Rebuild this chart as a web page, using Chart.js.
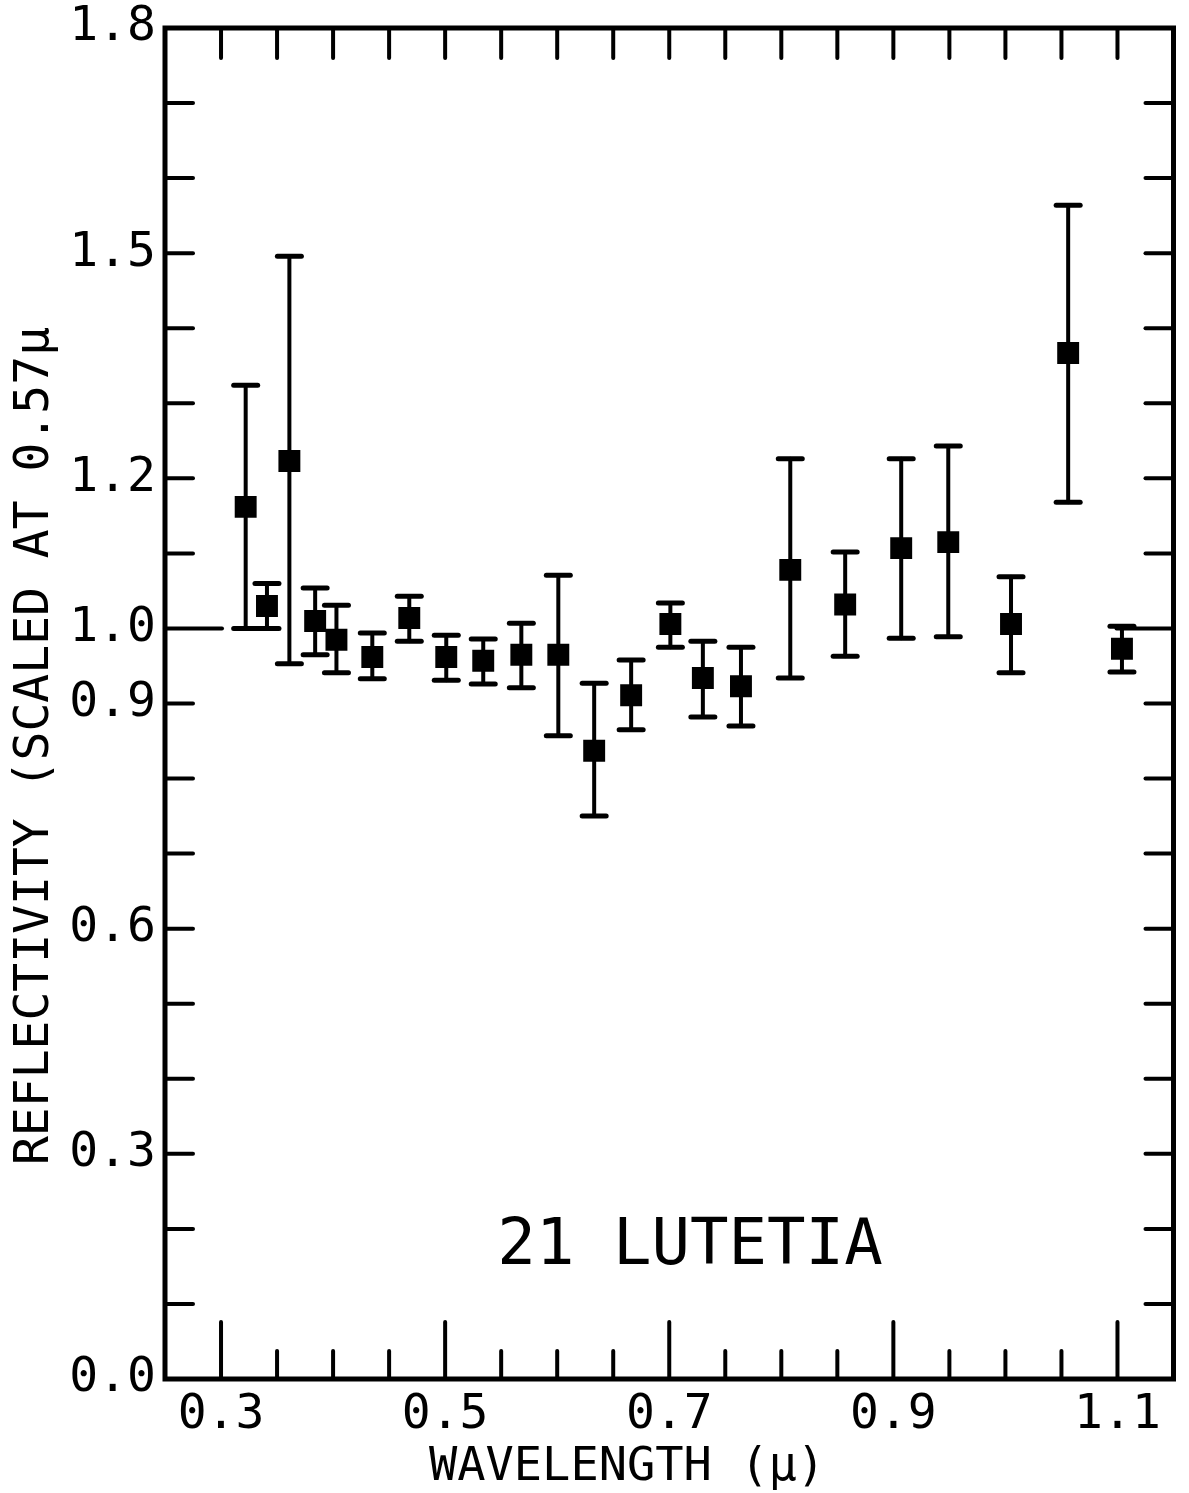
<!DOCTYPE html>
<html>
<head>
<meta charset="utf-8">
<script src="https://cdn.jsdelivr.net/npm/chart.js@4/dist/chart.umd.min.js"></script>
<style>
  html, body { margin: 0; padding: 0; background: #fff; }
  #wrap { position: relative; width: 1189px; height: 1493px; }
</style>
</head>
<body>
<div id="wrap"><canvas id="c"></canvas></div>
<script>
// Filter wavelengths (microns)
const wavelengths = [0.322, 0.341, 0.361, 0.384, 0.403, 0.435, 0.468, 0.501, 0.534, 0.568, 0.601, 0.633,
                     0.666, 0.701, 0.730, 0.764, 0.808, 0.857, 0.907, 0.949, 1.005, 1.056, 1.104];
// Reflectivity normalised at 0.57 micron
const reflectivity = [1.162, 1.030, 1.223, 1.010, 0.985, 0.962, 1.014, 0.962, 0.957, 0.965, 0.965, 0.837,
                      0.911, 1.006, 0.934, 0.923, 1.078, 1.032, 1.107, 1.115, 1.006, 1.367, 0.973];
// Upper and lower ends of each error bar
const errHigh = [1.324, 1.060, 1.496, 1.054, 1.031, 0.994, 1.043, 0.991, 0.986, 1.007, 1.071, 0.927,
                 0.958, 1.034, 0.983, 0.975, 1.226, 1.102, 1.226, 1.243, 1.069, 1.564, 1.003];
const errLow  = [1.000, 1.000, 0.953, 0.965, 0.941, 0.933, 0.983, 0.931, 0.926, 0.921, 0.857, 0.750,
                 0.865, 0.975, 0.882, 0.870, 0.934, 0.963, 0.987, 0.989, 0.941, 1.168, 0.942];

const xTickLabels = [0.3, 0.5, 0.7, 0.9, 1.1];
const yTickLabels = [0.0, 0.3, 0.6, 0.9, 1.0, 1.2, 1.5, 1.8];
const objectName = '21 LUTETIA';
const xTitle = 'WAVELENGTH (\u03BC)';
const yTitle = 'REFLECTIVITY (SCALED AT 0.57\u03BC';

const FONT = 'DejaVu Sans Mono';
const isIn = (list, v) => list.some(t => Math.abs(t - v) < 1e-6);

function seg(ctx, x1, y1, x2, y2) {
  ctx.beginPath(); ctx.moveTo(x1, y1); ctx.lineTo(x2, y2); ctx.stroke();
}

// Vertical error bars with end caps, drawn under the square markers
const errorBars = {
  id: 'errorBars',
  beforeDatasetsDraw(chart) {
    const { ctx, scales: { x, y } } = chart;
    ctx.save();
    ctx.strokeStyle = '#000';
    ctx.lineCap = 'round';
    wavelengths.forEach((w, i) => {
      const px = x.getPixelForValue(w);
      const yt = y.getPixelForValue(errHigh[i]);
      const yb = y.getPixelForValue(errLow[i]);
      ctx.lineWidth = 4;
      seg(ctx, px, yt, px, yb);
      ctx.lineWidth = 5;
      seg(ctx, px - 12, yt, px + 12, yt);
      seg(ctx, px - 12, yb, px + 12, yb);
    });
    ctx.restore();
  }
};

// Box frame with inward-pointing tick marks on all four sides
const frameTicks = {
  id: 'frameTicks',
  afterDraw(chart) {
    const { ctx, chartArea: a, scales: { x, y } } = chart;
    ctx.save();
    ctx.strokeStyle = '#000';
    ctx.lineCap = 'round';
    ctx.lineWidth = 4;
    for (let i = 1; i < 18; i++) {
      const v = i / 10;
      const py = y.getPixelForValue(v);
      const len = Math.abs(v - 1.0) < 1e-6 ? 57 : 28;
      seg(ctx, a.left, py, a.left + len, py);
      seg(ctx, a.right, py, a.right - len, py);
    }
    for (let i = 1; i < 18; i++) {
      const v = 0.25 + i * 0.05;
      const px = x.getPixelForValue(v);
      seg(ctx, px, a.top, px, a.top + 30);
      const len = isIn(xTickLabels, Math.round(v * 100) / 100) ? 57 : 28;
      seg(ctx, px, a.bottom, px, a.bottom - len);
    }
    ctx.lineWidth = 5;
    ctx.lineCap = 'butt';
    ctx.strokeRect(a.left, a.top, a.right - a.left, a.bottom - a.top);
    ctx.restore();
  }
};

// Axis titles and object name
const texts = {
  id: 'texts',
  afterDraw(chart) {
    const { ctx } = chart;
    ctx.save();
    ctx.fillStyle = '#000';
    ctx.textAlign = 'center';
    ctx.textBaseline = 'middle';
    ctx.font = `64px "${FONT}"`;
    ctx.fillText(objectName, 690, 1247);
    ctx.font = `47px "${FONT}"`;
    ctx.fillText(xTitle, 627, 1468);
    ctx.translate(36, 746);
    ctx.rotate(-Math.PI / 2);
    ctx.font = `48px "${FONT}"`;
    ctx.fillText(yTitle, 0, 0);
    ctx.restore();
  }
};

const points = wavelengths.map((w, i) => ({ x: w, y: reflectivity[i] }));

new Chart(document.getElementById('c'), {
  type: 'scatter',
  data: {
    datasets: [{
      data: points,
      showLine: false,
      pointStyle: 'rect',
      pointRadius: 15.5,
      pointHoverRadius: 15.5,
      backgroundColor: '#000',
      borderColor: '#000',
      borderWidth: 0
    }]
  },
  options: {
    responsive: true,
    maintainAspectRatio: false,
    devicePixelRatio: 1,
    animation: false,
    events: [],
    layout: { padding: { top: 28, right: 9, left: 0, bottom: 0 } },
    plugins: { legend: { display: false }, tooltip: { enabled: false } },
    scales: {
      x: {
        type: 'linear',
        min: 0.25, max: 1.15,
        grid: { display: false, drawTicks: false },
        border: { display: false },
        ticks: {
          stepSize: 0.05,
          autoSkip: false,
          maxRotation: 0,
          padding: 8,
          color: '#000',
          font: { family: FONT, size: 48 },
          callback: (v) => isIn(xTickLabels, Math.round(v * 100) / 100) ? v.toFixed(1) : ''
        },
        afterFit: (s) => { s.height = 114; s.paddingLeft = 0; s.paddingRight = 0; }
      },
      y: {
        type: 'linear',
        min: 0, max: 1.8,
        grid: { display: false, drawTicks: false },
        border: { display: false },
        ticks: {
          stepSize: 0.1,
          autoSkip: false,
          padding: 9,
          color: '#000',
          font: { family: FONT, size: 48 },
          callback: (v) => isIn(yTickLabels, Math.round(v * 10) / 10) ? v.toFixed(1) : ''
        },
        afterFit: (s) => { s.width = 165; s.paddingTop = 0; s.paddingBottom = 0; }
      }
    }
  },
  plugins: [errorBars, frameTicks, texts]
});
</script>
</body>
</html>
